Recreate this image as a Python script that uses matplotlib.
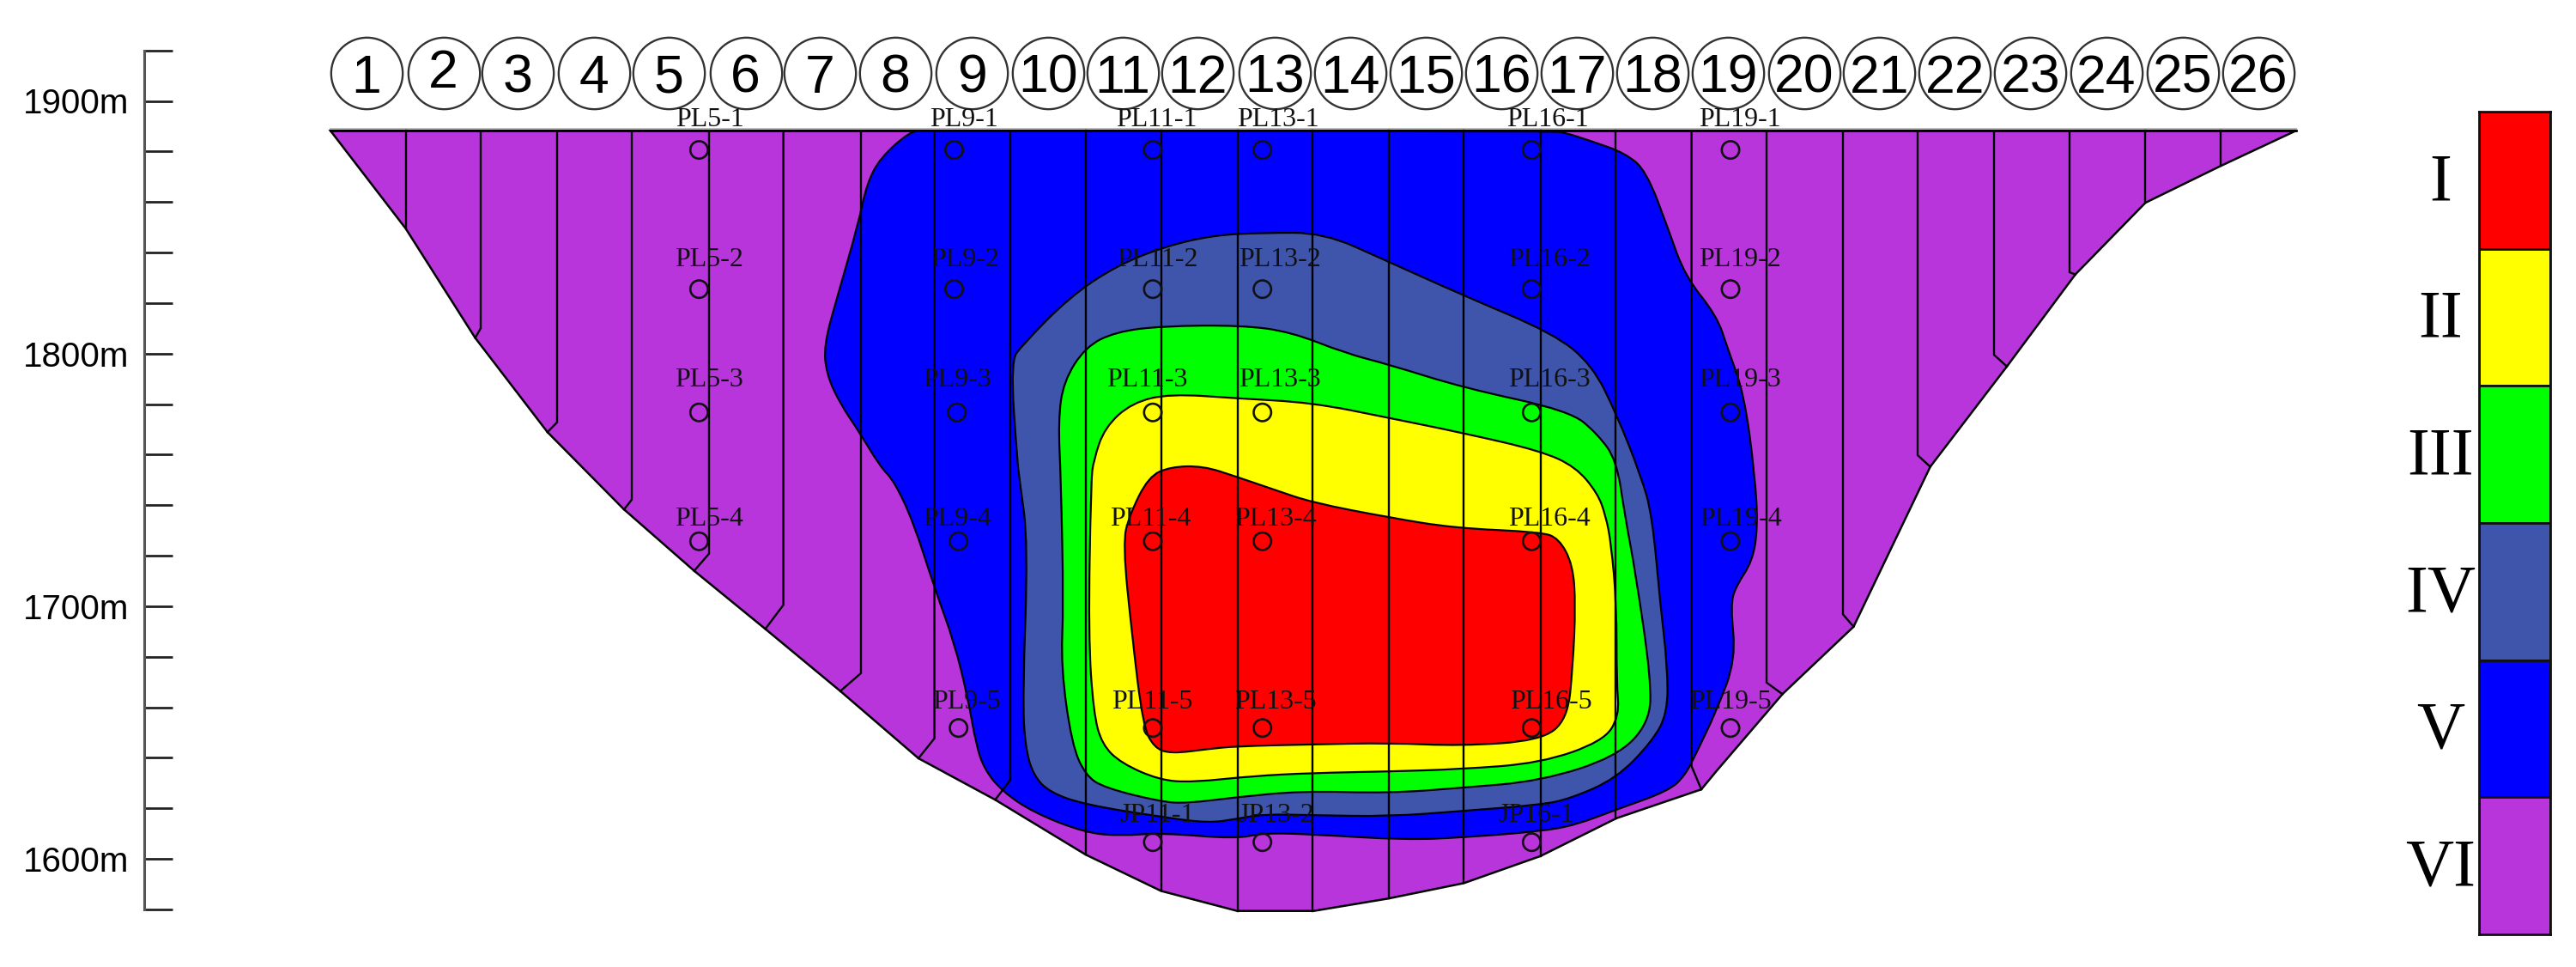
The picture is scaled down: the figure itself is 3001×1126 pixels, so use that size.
import numpy as np
import matplotlib
matplotlib.use("Agg")
import matplotlib.pyplot as plt
from matplotlib.path import Path
from matplotlib.patches import PathPatch, Polygon

# ---- data: x is horizontal distance along the section, e is elevation (m) ----
section_numbers = list(range(1, 27))
section_x = [427, 516.6, 603, 692, 779, 868.6, 954.7, 1043, 1132, 1220.7, 1308, 1395.4, 1484.7,
             1572.7, 1661, 1749.4, 1836.7, 1924.7, 2013, 2102, 2189.4, 2277.4, 2365.4, 2454, 2542.7, 2630.7]
section_dy = [0, 2, 0, 0, 0, 0, 0, 0, 0, 0, 0, 0, 0, 0, 0, 0, 0, 0, 0, 0, 0, 0, 0, 0, 0, 0]

valley_x = [385, 472.6, 553.6, 637.8, 727, 808.7, 891.6, 979, 1070, 1159.4, 1264.7, 1352.7, 1441.3,
            1530.6, 1617.3, 1705.4, 1794.6, 1883.3, 1982, 2000, 2076.5, 2159.4, 2248.7, 2338, 2417.7,
            2499.4, 2586.7, 2674.7]
valley_e = [1888.2, 1849.5, 1806.2, 1768.9, 1738.3, 1714, 1691, 1666.4, 1639.8, 1623.4, 1601.7, 1587.3,
            1579.4, 1579.4, 1584.3, 1590.4, 1601.1, 1616.1, 1627.5, 1634.9, 1665.2, 1691.9, 1755.2,
            1794.9, 1831.3, 1859.7, 1874.2, 1888.2]

line_x = [472.6, 560, 649, 736, 826, 912.6, 1003, 1088.6, 1177, 1265, 1352.7, 1442, 1529, 1618, 1705,
          1794.6, 1882, 1970.6, 2058, 2147, 2234, 2323, 2411, 2499, 2587]
line_knee_e = [1849.5, 1810, 1772.8, 1742.2, 1720.8, 1700.5, 1673.5, 1647.7, 1631.2, 1601.7, 1587.3,
               1579.4, 1579.4, 1584.3, 1590.4, 1601.1, 1616.1, 1636.7, 1669.8, 1696.8, 1759.8, 1799.5,
               1832.2, 1859.7, 1874.2]
line_end_x = [472.6, 553.6, 637.8, 727, 808.7, 891.6, 979, 1070, 1159.4, 1265, 1352.7, 1442, 1529, 1618,
              1705, 1794.6, 1882, 1982, 2076.5, 2159.4, 2248.7, 2338, 2417.7, 2499, 2587]
line_end_e = [1849.5, 1806.2, 1768.9, 1738.3, 1714, 1691, 1666.4, 1639.8, 1623.4, 1601.7, 1587.3, 1579.4,
              1579.4, 1584.3, 1590.4, 1601.1, 1616.1, 1627.5, 1665.2, 1691.9, 1755.2, 1794.9, 1831.3,
              1859.7, 1874.2]

zone5_x = [1060.6, 1075, 1810, 1822.7, 1854.6, 1892.9, 1918, 1943.9, 1963, 2000, 2012.8, 2032, 2044.6,
           2047.8, 2041.5, 2022.3, 2016, 2022.3, 2000, 1975.8, 1963, 1944, 1883, 1835.5, 1794.6, 1705.4,
           1637.8, 1529, 1472, 1440, 1352.7, 1306, 1264.7, 1204, 1167, 1146.7, 1137, 1127.6, 1111.6,
           1089.3, 1063.8, 1041.5, 1025.5, 1000, 979, 963, 959.8, 975.8, 1000, 1009.6, 1025.5]
zone5_e = [1888, 1888, 1888, 1887.5, 1884, 1879.4, 1872.3, 1848.9, 1830.7, 1815, 1802, 1783.8, 1751.3,
           1731.2, 1717.7, 1707.9, 1700.5, 1679, 1658.8, 1641.6, 1633, 1626.9, 1619.5, 1613.4, 1610.9,
           1608.5, 1607.5, 1609.7, 1610.3, 1607.9, 1610.3, 1609.1, 1610.3, 1618.3, 1626.9, 1635.5, 1645.3,
           1663.7, 1685.8, 1706.6, 1733.6, 1749.6, 1755.2, 1769.5, 1780, 1791.6, 1803.4, 1822.9, 1851.5,
           1867, 1877.5]

zone4_x = [1177.3, 1191, 1245.5, 1299.7, 1357, 1414.5, 1472, 1542, 1612, 1705.4, 1810, 1854.6, 1883.3,
           1912, 1924.7, 1934.3, 1942.6, 1942.6, 1924.7, 1883, 1829, 1794.6, 1701.5, 1618.6, 1529, 1472,
           1440, 1408, 1357, 1264.7, 1223, 1204, 1194.5, 1191.3, 1197.7, 1188, 1185]
zone4_e = [1796.9, 1803.4, 1822.2, 1834.6, 1842.4, 1846.9, 1847.8, 1847.8, 1837.2, 1822.9, 1807.9, 1795.6,
           1776, 1751.3, 1736, 1700.5, 1676, 1657.6, 1646.5, 1631.8, 1623.8, 1621.4, 1618.9, 1616.8,
           1617.3, 1617.7, 1615.8, 1614.2, 1616.4, 1621.4, 1626.3, 1633, 1644, 1663.7, 1725, 1749.6, 1757.8]

zone3_x = [1239, 1264.7, 1299.7, 1354, 1446.4, 1503.8, 1567.6, 1618.6, 1705.4, 1829, 1861, 1883.3, 1892.9,
           1905.6, 1923.5, 1921.6, 1883.3, 1794.6, 1701.5, 1618.6, 1516.6, 1440, 1382.7, 1352.7, 1287,
           1264.7, 1248.7, 1236, 1239, 1236, 1232.8]
zone3_e = [1789, 1802.7, 1808.6, 1810.9, 1811.2, 1808.6, 1800.1, 1795.6, 1786.4, 1777.3, 1768.2, 1757.8,
           1736, 1712.8, 1671, 1653.9, 1640.4, 1630.8, 1628.1, 1626, 1626.9, 1624.4, 1622, 1622.6, 1628.1,
           1633, 1645.3, 1676, 1700.5, 1749.6, 1773.4]

zone2_x = [1274, 1287, 1318.9, 1363.5, 1440, 1529, 1618.6, 1705.4, 1794.6, 1835.5, 1861, 1870.5, 1876.9,
           1883.3, 1883.3, 1886.5, 1867.3, 1794.6, 1701.5, 1618.6, 1529, 1459, 1389, 1350.8, 1306, 1283.8,
           1274, 1267.9, 1271]
zone2_e = [1757.8, 1770.8, 1780.6, 1784.1, 1782.3, 1780.6, 1774.5, 1768.5, 1761.5, 1755.2, 1744.8, 1736,
           1725, 1700.5, 1669.8, 1656.3, 1646.5, 1637.9, 1635.5, 1634.6, 1634, 1632.8, 1630.3, 1631.2,
           1637.9, 1645.3, 1657.6, 1688.2, 1749.6]

zone1_x = [1315.7, 1338, 1363.5, 1401.8, 1440, 1484.7, 1529, 1618.6, 1695, 1794.6, 1816, 1832.3, 1835.5,
           1832.3, 1826, 1794.6, 1701.5, 1618.6, 1529, 1440, 1408, 1363.5, 1344.4, 1331.6, 1318.9, 1308]
zone1_e = [1736, 1751.3, 1755.2, 1755.5, 1751.3, 1746.1, 1741, 1735.1, 1730.9, 1729.4, 1726.9, 1716.5,
           1700.5, 1676, 1655.1, 1646.8, 1644.7, 1645.9, 1645.3, 1644.6, 1643.5, 1641.6, 1644.1, 1652.7,
           1688.2, 1725]

sample_x = [814.4, 814.4, 814.4, 814.4,
            1111.6, 1111.6, 1114.8, 1116.7, 1116.7,
            1343, 1343, 1343, 1343, 1343, 1343,
            1470.7, 1470.7, 1470.7, 1470.7, 1470.7, 1470.7,
            1784.4, 1784.4, 1784.4, 1784.4, 1784.4, 1784.4,
            2016, 2016, 2016, 2016, 2016]
sample_e = [1880.6, 1825.5, 1776.7, 1725.7,
            1880.6, 1825.5, 1776.7, 1725.7, 1651.8,
            1880.6, 1825.5, 1776.7, 1725.7, 1651.8, 1606.6,
            1880.6, 1825.5, 1776.7, 1725.7, 1651.8, 1606.6,
            1880.6, 1825.5, 1776.7, 1725.7, 1651.8, 1606.6,
            1880.6, 1825.5, 1776.7, 1725.7, 1651.8]
sample_names = ["PL5-1", "PL5-2", "PL5-3", "PL5-4",
                "PL9-1", "PL9-2", "PL9-3", "PL9-4", "PL9-5",
                "PL11-1", "PL11-2", "PL11-3", "PL11-4", "PL11-5", "JP11-1",
                "PL13-1", "PL13-2", "PL13-3", "PL13-4", "PL13-5", "JP13-2",
                "PL16-1", "PL16-2", "PL16-3", "PL16-4", "PL16-5", "JP16-1",
                "PL19-1", "PL19-2", "PL19-3", "PL19-4", "PL19-5"]
name_x = [826.5, 826.5, 826.5, 826.5,
          1122.5, 1123.8, 1115, 1115, 1126,
          1347, 1348, 1336, 1340, 1342, 1348,
          1489, 1491, 1491, 1486, 1486, 1487,
          1803, 1804.5, 1804.5, 1804.5, 1807, 1789.6,
          2027, 2027, 2027, 2028, 2016]
name_e = [1892.4, 1837.2, 1789.4, 1734.6,
          1892.4, 1837.2, 1789.4, 1734.6, 1661.9,
          1892.4, 1837.2, 1789.4, 1734.6, 1661.9, 1617.3,
          1892.4, 1837.2, 1789.4, 1734.6, 1661.9, 1617.3,
          1892.4, 1837.2, 1789.4, 1734.6, 1661.9, 1617.3,
          1892.4, 1837.2, 1789.4, 1734.6, 1661.9]

grades = ["I", "II", "III", "IV", "V", "VI"]
grade_colors = ["#FF0000", "#FFFF00", "#00FF00", "#3F55AB", "#0000FF", "#B835DC"]
major_elev = [1600, 1700, 1800, 1900]
minor_elev = list(range(1580, 1921, 20))

# ---- figure ----
plt.rcParams["font.family"] = ["Liberation Serif", "DejaVu Serif"]
fig = plt.figure(figsize=(30.01, 11.26), dpi=100, facecolor="white")
ax = fig.add_axes([0, 0, 1, 1])
ax.set_xlim(0, 3001)
ax.set_ylim(1900 - (1126 - 117.5) / 2.942, 1900 + 117.5 / 2.942)
ax.patch.set_alpha(0)


def smooth_closed(xs, es):
    pts = np.column_stack([xs, es])
    mids = (pts + np.roll(pts, -1, axis=0)) / 2
    verts = [mids[-1]]
    codes = [Path.MOVETO]
    for p, m in zip(pts, mids):
        verts += [p, m]
        codes += [Path.CURVE3, Path.CURVE3]
    return Path(verts, codes)


ax.add_patch(Polygon(np.column_stack([valley_x, valley_e]), closed=True,
                     facecolor=grade_colors[5], edgecolor="black", lw=1.8, zorder=1))
for (zx, ze, col, z) in [(zone5_x, zone5_e, grade_colors[4], 2),
                         (zone4_x, zone4_e, grade_colors[3], 3),
                         (zone3_x, zone3_e, grade_colors[2], 4),
                         (zone2_x, zone2_e, grade_colors[1], 5),
                         (zone1_x, zone1_e, grade_colors[0], 6)]:
    ax.add_patch(PathPatch(smooth_closed(zx, ze), facecolor=col, edgecolor="black", lw=1.6, zorder=z))

top_e = valley_e[0]
for x, ke, ex, ee in zip(line_x, line_knee_e, line_end_x, line_end_e):
    ax.plot([x, x, ex], [top_e, ke, ee], color="black", lw=1.7, zorder=7, solid_joinstyle="miter")
ax.plot([valley_x[0], valley_x[-1]], [top_e, top_e], color="black", lw=2.0, zorder=8)
ax.plot([valley_x[0], valley_x[-1]], [top_e + 0.7, top_e + 0.7], color="#bbbbbb", lw=1.5, zorder=0)

# numbered circles
num_e = 1900 - (85 - 117.5) / 2.942
ax.scatter(section_x, [num_e] * len(section_x), s=3600, facecolor="white", edgecolor="#333333",
           lw=1.7, zorder=3)
for n, x, d in zip(section_numbers, section_x, section_dy):
    ax.text(x, num_e + d, str(n), ha="center", va="center_baseline", fontsize=45, color="black",
            family=["Liberation Sans"], zorder=4)

# sampling points and names
ax.scatter(sample_x, sample_e, s=215, facecolor="none", edgecolor="#111111", lw=1.9, zorder=9)
for x, e, name in zip(name_x, name_e, sample_names):
    ax.text(x, e, name, ha="center", va="center", fontsize=23, color="#111111", zorder=10)

# elevation axis
for s in ["top", "right", "bottom"]:
    ax.spines[s].set_visible(False)
ax.spines["left"].set_position(("data", 168))
ax.spines["left"].set_bounds(1580, 1920)
ax.spines["left"].set_color("#555555")
ax.spines["left"].set_linewidth(2.2)
ax.set_xticks([])
ax.set_yticks(major_elev)
ax.set_yticklabels([f"{v}m" for v in major_elev], family=["Liberation Sans"], fontsize=29,
                   va="center_baseline")
ax.set_yticks(minor_elev, minor=True)
ax.tick_params(axis="y", which="both", direction="in", length=24, width=2.0, color="#222222", pad=13)

# grade legend
lax = fig.add_axes([2887.8 / 3001, 1 - 1088 / 1126, (2970.6 - 2887.8) / 3001, (1088 - 130) / 1126])
lax.set_xlim(0, 1)
lax.set_ylim(len(grades), 0)
lax.bar([0.5] * len(grades), [1] * len(grades), width=1, bottom=range(len(grades)),
        color=grade_colors, edgecolor="#111111", lw=2.0)
lax.set_xticks([])
lax.yaxis.set_ticks([i + 0.47 for i in range(len(grades))])
lax.set_yticklabels(grades, fontsize=56, ha="center")
lax.tick_params(axis="y", length=0, pad=32)
for s in lax.spines.values():
    s.set_color("#111111")
    s.set_linewidth(2.0)

fig.savefig("out.png", dpi=100)
